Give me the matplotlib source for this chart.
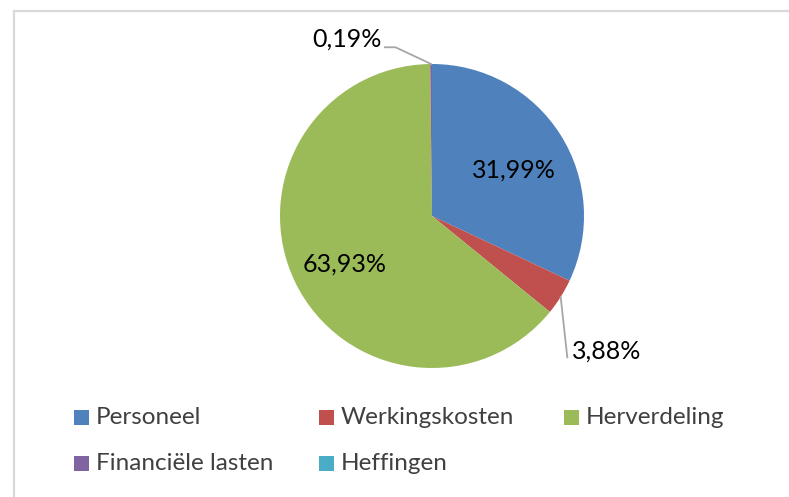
import matplotlib.pyplot as plt
import matplotlib.patches as mpatches
import numpy as np

# Verdeling van de uitgaven (%)
categories = ['Personeel', 'Werkingskosten', 'Herverdeling', 'Financiële lasten', 'Heffingen']
values = [31.99, 3.88, 63.93, 0.19, 0.0]
colors = ['#4F81BD', '#C0504D', '#9BBB59', '#8064A2', '#4BACC6']

W, H = 789, 497
plt.rcParams['font.family'] = ['Lato', 'DejaVu Sans']

fig = plt.figure(figsize=(W / 100, H / 100), dpi=100)

# kader rond de grafiek
fig.add_artist(mpatches.Rectangle((14 / W, -0.1), 1.0, (H - 11) / H + 0.1,
                                  transform=fig.transFigure, fill=False,
                                  edgecolor='#D9D9D9', linewidth=1.6))

# taart: middelpunt (432, 216), straal 152 px
cx, cy, r = 432, 216, 152
ax = fig.add_axes([(cx - r) / W, (H - cy - r) / H, 2 * r / W, 2 * r / H])
wedges, _ = ax.pie(values, colors=colors, startangle=90, counterclock=False,
                   radius=1.0, wedgeprops=dict(linewidth=0))
ax.set_xlim(-1, 1)
ax.set_ylim(-1, 1)
ax.set_aspect('equal')
ax.axis('off')


def fmt(v):
    return f'{v:.2f}%'.replace('.', ',')


lead = '#A6A6A6'
fs_lab = 18
fs_leg = 17.5
for w, v in zip(wedges, values):
    if v == 0:
        continue
    mid = np.deg2rad((w.theta1 + w.theta2) / 2)
    ex, ey = np.cos(mid), np.sin(mid)
    if v > 10:
        d = 0.64
        ax.text(d * np.cos(mid), d * np.sin(mid) - 0.04, fmt(v), ha='center', va='center',
                fontsize=fs_lab, color='black')
    elif v > 1:
        # label rechtsonder met verbindingslijn
        tx, ty = 0.92, -0.89
        ax.plot([ex, tx - 0.03], [ey, ty - 0.04], color=lead, lw=1.3, clip_on=False)
        ax.text(tx, ty, fmt(v), ha='left', va='center', fontsize=fs_lab, color='black')
    else:
        # klein segment bovenaan
        tx, ty = -0.31, 1.11
        ax.plot([ex, tx + 0.07, tx], [ey, ty, ty], color=lead, lw=1.3, clip_on=False)
        ax.text(tx - 0.02, ty + 0.055, fmt(v), ha='right', va='center', fontsize=fs_lab,
                color='black')

# legenda in twee rijen van drie kolommen
col_x = [74, 319, 564]
row_y = [417, 463]
sq = 15
for i, (cat, col) in enumerate(zip(categories, colors)):
    x0 = col_x[i % 3]
    y0 = row_y[i // 3]
    fig.add_artist(mpatches.Rectangle((x0 / W, (H - y0 - sq / 2) / H), sq / W, sq / H,
                                      transform=fig.transFigure, facecolor=col,
                                      edgecolor='none'))
    fig.text((x0 + sq + 7) / W, (H - y0) / H, cat, ha='left', va='center',
             fontsize=fs_leg, color='#404040')

fig.savefig('out.png', dpi=100)
